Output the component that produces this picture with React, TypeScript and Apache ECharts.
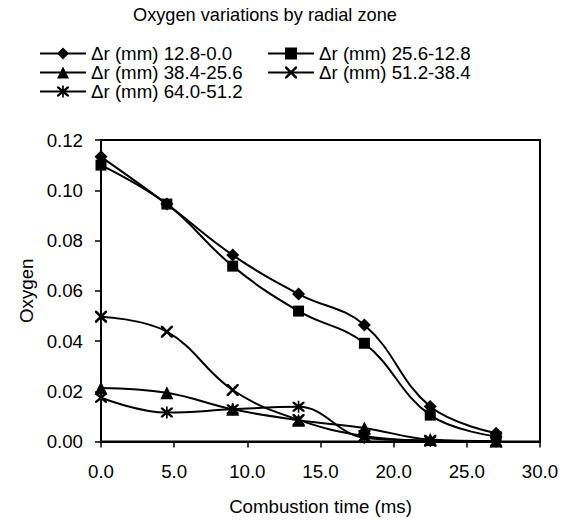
import React, { useEffect, useRef } from "react";
import * as echarts from "echarts";

const times = [0, 4.5, 9, 13.5, 18, 22.5, 27];
const seriesNames = [
  "Δr (mm) 12.8-0.0",
  "Δr (mm) 25.6-12.8",
  "Δr (mm) 38.4-25.6",
  "Δr (mm) 51.2-38.4",
  "Δr (mm) 64.0-51.2",
];
const zone1 = [0.1133, 0.0945, 0.0742, 0.0587, 0.0464, 0.0139, 0.0033];
const zone2 = [0.1100, 0.0945, 0.0698, 0.0519, 0.0391, 0.0105, 0.0020];
const zone3 = [0.0213, 0.0194, 0.0128, 0.0085, 0.0054, 0.0008, 0.0002];
const zone4 = [0.0497, 0.0437, 0.0205, 0.0086, 0.0022, 0.0003, 0.0];
const zone5 = [0.0174, 0.0115, 0.0128, 0.0138, 0.0015, 0.0003, 0.0];
const yTicks = [0, 0.02, 0.04, 0.06, 0.08, 0.1, 0.12];
const xTicks = [0, 5, 10, 15, 20, 25, 30];

const X_PATH =
  "path://M0,0 L3,0 L10,7 L17,0 L20,0 L20,3 L13,10 L20,17 L20,20 L17,20 L10,13 L3,20 L0,20 L0,17 L7,10 L0,3 Z";
const STAR_PATH =
  "path://M0,0 L3,0 L10,7 L17,0 L20,0 L20,3 L13,10 L20,17 L20,20 L17,20 L10,13 L3,20 L0,20 L0,17 L7,10 L0,3 Z M8.6,-2 L11.4,-2 L11.4,22 L8.6,22 Z";

const FONT = "Liberation Sans";
const FS = 18.7;

export default function App() {
  const ref = useRef<HTMLDivElement>(null);
  useEffect(() => {
    if (!ref.current) return;
    const chart = echarts.init(ref.current, undefined, { renderer: "svg" });
    const allData = [zone1, zone2, zone3, zone4, zone5];
    const symbols = ["diamond", "rect", "triangle", X_PATH, STAR_PATH];
    const sizes = [13, 11, 13, 12, 12];
    const series = allData.map((vals, i) => ({
      name: seriesNames[i],
      type: "line",
      data: vals.map((v, j) => [times[j], v]),
      smooth: 0.4,
      symbol: symbols[i],
      symbolSize: sizes[i],
      showSymbol: true,
      color: "#000",
      lineStyle: { color: "#000", width: 2 },
      itemStyle: { color: "#000" },
      z: 5 - i,
    }));
    const legendCommon = {
      orient: "vertical" as const,
      top: 39,
      itemWidth: 46,
      itemHeight: 15,
      itemGap: 0,
      textStyle: { fontFamily: FONT, fontSize: FS, color: "#000", lineHeight: 19 },
      inactiveColor: "#000",
    };
    chart.setOption({
      animation: false,
      backgroundColor: "#fff",
      title: {
        text: "Oxygen variations by radial zone",
        left: 128,
        top: 1,
        textStyle: { fontFamily: FONT, fontSize: 18.2, fontWeight: "normal", color: "#000" },
      },
      legend: [
        { ...legendCommon, left: 34, data: [seriesNames[0], seriesNames[2], seriesNames[4]] },
        { ...legendCommon, left: 262, data: [seriesNames[1], seriesNames[3]] },
      ],
      grid: {
        left: 101,
        right: 32,
        top: 140,
        bottom: 81.5,
        show: true,
        borderColor: "#000",
        borderWidth: 2,
        backgroundColor: "transparent",
      },
      xAxis: {
        type: "value",
        min: xTicks[0],
        max: xTicks[xTicks.length - 1],
        interval: 5,
        name: "Combustion time (ms)",
        nameLocation: "middle",
        nameGap: 55,
        nameTextStyle: { fontFamily: FONT, fontSize: FS, color: "#000" },
        axisLine: { lineStyle: { color: "#000", width: 2 } },
        axisTick: { show: true, inside: false, length: 6, lineStyle: { color: "#000", width: 1.5 } },
        axisLabel: {
          fontFamily: FONT,
          fontSize: FS,
          color: "#000",
          margin: 20,
          formatter: (v: number) => v.toFixed(1),
        },
        splitLine: { show: false },
      },
      yAxis: {
        type: "value",
        min: yTicks[0],
        max: yTicks[yTicks.length - 1],
        interval: 0.02,
        name: "Oxygen",
        nameLocation: "middle",
        nameGap: 64,
        nameTextStyle: { fontFamily: FONT, fontSize: FS, color: "#000" },
        axisLine: { show: true, lineStyle: { color: "#000", width: 2 } },
        axisTick: { show: true, inside: false, length: 6, lineStyle: { color: "#000", width: 1.5 } },
        axisLabel: {
          fontFamily: FONT,
          fontSize: FS,
          color: "#000",
          margin: 18,
          formatter: (v: number) => v.toFixed(2),
        },
        splitLine: { show: false },
      },
      series,
    });
    return () => chart.dispose();
  }, []);
  return (
    <div
      ref={ref}
      style={{ position: "absolute", left: 0, top: 0, width: 572, height: 523 }}
    />
  );
}
